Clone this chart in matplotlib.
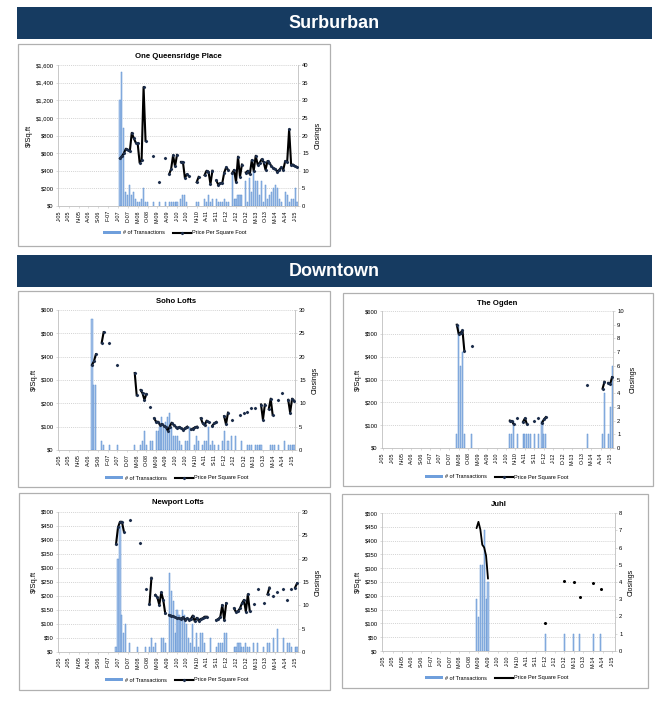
import numpy as np
import matplotlib
matplotlib.use("Agg")
import matplotlib.pyplot as plt
from matplotlib.patches import Rectangle, Patch
from matplotlib.lines import Line2D
from matplotlib.ticker import FuncFormatter, MultipleLocator

plt.rcParams['font.family'] = ['Liberation Sans', 'DejaVu Sans']

W, H = 671, 705
N_MONTHS = 122  # Jan-05 .. Feb-15, month index 0 = Jan-05

# ---- One Queensridge Place ----
qp_bar_idx = [31, 32, 33, 34, 35, 36, 37, 38, 39, 40, 41, 42, 43, 44, 45, 48, 51, 54, 56, 57, 58, 59, 60,
              62, 63, 64, 65, 70, 71, 74, 75, 76, 77, 78, 80, 81, 82, 83, 84, 85, 86, 88, 89, 90, 91, 92,
              93, 95, 96, 97, 98, 99, 100, 101, 102, 103, 104, 105, 106, 107, 108, 109, 110, 111, 112,
              113, 115, 116, 117, 118, 119, 120, 121]
qp_bar_n = [30, 38, 22, 4, 3, 6, 3, 4, 2, 1, 1, 2, 5, 1, 1, 1, 1, 1, 1, 1, 1, 1, 1,
            2, 3, 3, 1, 1, 1, 2, 1, 3, 1, 2, 2, 1, 1, 1, 2, 1, 1, 9, 2, 2, 3, 3,
            3, 7, 1, 8, 4, 10, 7, 7, 3, 7, 1, 6, 2, 3, 4, 5, 6, 5, 2,
            1, 4, 3, 1, 2, 2, 5, 1]
qp_price_idx = [31, 32, 33, 34, 35, 36, 37, 38, 39, 40, 41, 42, 43, 44,
                48, 51, 54,
                56, 57, 58, 59, 60,
                62, 63, 64, 65, 66,
                70, 71,
                74, 75, 76, 77, 78,
                80, 81, 82, 83, 84, 85, 86,
                88, 89, 90, 91, 92, 93,
                95, 96, 97, 98, 99, 100, 101, 102, 103, 104, 105, 106, 107, 108, 109, 110, 111,
                112, 113, 114, 115, 116, 117, 118, 119, 120, 121]
qp_price_val = [540, 565, 600, 650, 640, 620, 830, 770, 720, 710, 490, 520, 1350, 740,
                570, 270, 545,
                360, 420, 575, 450, 580,
                500, 500, 320, 360, 340,
                270, 330,
                350, 400, 390, 250, 400,
                290, 240, 260, 260, 380, 440, 410,
                370, 410, 270, 560, 330, 470,
                380, 400, 360, 520, 400, 570, 470, 490, 530, 500, 410, 510, 490,
                450, 430, 420, 390, 410, 440, 410, 510, 500, 870, 470, 470, 450, 440]

# ---- Soho Lofts ----
soho_bar_idx = [17, 18, 19, 22, 23, 26, 30, 39, 42, 43, 44, 45, 47, 48, 50, 51, 52, 53, 54, 55, 56, 57,
                58, 59, 60, 61, 62, 63, 65, 66, 67, 70, 71, 72, 74, 75, 76, 77, 78, 79, 80, 82, 84, 85,
                87, 89, 91, 94, 97, 98, 99, 101, 102, 103, 104, 109, 110, 111, 113, 116, 118, 119, 120, 121]
soho_bar_n = [28, 14, 14, 2, 1, 1, 1, 1, 1, 2, 4, 1, 2, 2, 4, 4, 5, 7, 5, 6, 7, 8,
              5, 3, 3, 3, 2, 1, 2, 2, 5, 1, 3, 2, 1, 2, 2, 5, 1, 2, 1, 1, 2, 4,
              2, 3, 3, 2, 1, 1, 1, 1, 1, 1, 1, 1, 1, 1, 1, 2, 1, 1, 1, 1]
soho_price_idx = [17, 18, 19, 22, 23, 26, 30, 39, 40, 42, 43, 44, 45, 47,
                  49, 50, 51, 52, 53, 54, 55, 56, 57, 58, 59, 60, 61, 62, 63, 64, 65, 66,
                  68, 69, 70, 71, 73, 74, 75, 76, 77, 79, 80, 81,
                  85, 86, 87, 89, 93, 95, 97, 99, 101,
                  104, 105, 106, 108, 109, 110, 113, 115, 118, 119, 120, 121]
soho_price_val = [365, 380, 410, 460, 505, 460, 365, 330, 235, 257, 243, 215, 240, 183,
                  136, 121, 121, 107, 111, 104, 100, 83, 100, 117, 107, 100, 93, 99, 93, 86, 94, 100,
                  88, 92, 97, 100, 136, 114, 106, 126, 120, 105, 115, 120,
                  145, 110, 160, 130, 150, 160, 165, 180, 178,
                  195, 130, 195, 175, 220, 150, 215, 245, 215, 160, 220, 212]

# ---- The Ogden ----
ogden_bar_idx = [39, 40, 41, 42, 43, 47, 67, 68, 69, 71, 74, 75, 76, 77, 78, 80, 82, 84, 85, 86,
                 108, 116, 117, 119, 120, 121]
ogden_bar_n = [1, 9, 6, 7, 1, 1, 1, 1, 2, 1, 1, 1, 1, 1, 1, 1, 1, 2, 1, 1,
               1, 1, 4, 1, 3, 6]
ogden_price_idx = [39, 40, 41, 42, 43, 47, 67, 68, 69, 71, 74, 75, 76, 80, 82, 84, 85, 86,
                   108, 116, 117, 119, 120, 121]
ogden_price_val = [540, 500, 505, 515, 425, 445, 120, 118, 105, 130, 115, 130, 105, 120, 130, 110, 125, 135,
                   275, 260, 290, 285, 280, 310]

# ---- Newport Lofts ----
newport_bar_idx = [29, 30, 31, 32, 33, 34, 36, 40, 44, 46, 47, 48, 49, 52, 53, 54, 56, 57, 58, 59, 60,
                   61, 62, 63, 64, 65, 66, 67, 68, 69, 70, 71, 72, 73, 74, 77, 80, 81, 82, 83, 84, 85,
                   89, 90, 91, 92, 93, 94, 95, 96, 97, 99, 101, 104, 106, 107, 109, 111, 114, 116,
                   117, 118, 120, 121]
newport_bar_n = [1, 20, 27, 8, 4, 6, 2, 1, 1, 1, 3, 1, 2, 3, 3, 2, 17, 13, 11, 4, 9,
                 8, 7, 9, 8, 6, 3, 2, 6, 1, 4, 1, 4, 4, 2, 3, 1, 2, 2, 2, 4, 4,
                 1, 1, 2, 2, 1, 1, 2, 1, 1, 2, 2, 1, 2, 2, 3, 5, 3, 2,
                 2, 1, 1, 1]
newport_price_idx = [29, 30, 31, 32, 33, 36, 41, 44, 46, 47, 49, 50, 51, 52, 53, 54,
                     56, 57, 58, 59, 60, 61, 62, 63, 64, 65, 66, 67, 68, 69, 70, 71, 72, 73, 74, 75,
                     80, 81, 82, 83, 84, 85,
                     89, 90, 91, 92, 93, 94, 95, 96, 97,
                     99, 101, 104, 106, 107, 109, 111, 114, 116, 118, 120, 121]
newport_price_val = [385, 445, 465, 465, 430, 470, 390, 225, 170, 265, 204, 195, 168, 213, 186, 138,
                     132, 130, 127, 124, 120, 122, 118, 124, 115, 120, 115, 118, 130, 110, 122, 112,
                     118, 120, 126, 126,
                     114, 118, 125, 168, 114, 174,
                     156, 142, 146, 156, 174, 186, 144, 206, 146,
                     171, 224, 174, 206, 230, 201, 215, 225, 187, 225, 230, 245]

# ---- Juhl ----
juhl_bar_idx = [49, 50, 51, 52, 53, 54, 55, 85, 95, 100, 103, 110, 114]
juhl_bar_n = [3, 2, 5, 5, 7, 3, 4, 1, 1, 1, 1, 1, 1]
juhl_price_idx = [49, 50, 51, 52, 53, 54, 55, 85, 95, 100, 103, 110, 114]
juhl_price_val = [445, 468, 440, 385, 375, 345, 262, 100, 255, 250, 195, 245, 225]

LETTERS = "JFMAMJJASOND"
tick_pos = list(range(0, N_MONTHS, 5))
tick_lab = [f"{LETTERS[m % 12]}-{5 + m // 12:02d}" for m in tick_pos]

BAR_FC = '#a7c4ea'
BAR_EC = '#5a8ed0'
MARK_C = '#1c2d4a'
GRID_C = '#c4c4c4'
AX_C = '#bfbfbf'
NAVY = '#163b61'


def fig_box(x0, y0, x1, y1):
    return [x0 / W, 1 - y1 / H, (x1 - x0) / W, (y1 - y0) / H]


def banner(x0, y0, x1, y1, text):
    fig.patches.append(Rectangle((x0 / W, 1 - y1 / H), (x1 - x0) / W, (y1 - y0) / H,
                                 transform=fig.transFigure, facecolor=NAVY, edgecolor='none',
                                 zorder=-5))
    fig.text((x0 + x1) / 2 / W, 1 - (y0 + y1) / 2 / H, text, color='white', fontsize=13,
             fontweight='bold', ha='center', va='center')


def frame(x0, y0, x1, y1):
    fig.patches.append(Rectangle((x0 / W, 1 - y1 / H), (x1 - x0) / W, (y1 - y0) / H,
                                 transform=fig.transFigure, facecolor='white',
                                 edgecolor='#b0b0b0', linewidth=0.9, zorder=-5))


def panel(box, title, title_y, leg_xy, bar_idx, bar_n, price_idx, price_val,
          lmax, lstep, rmax, rstep, markers=True):
    ax = fig.add_axes(fig_box(*box))
    ax2 = ax.twinx()
    ax.patch.set_visible(False)
    # bars against the right (closings) axis
    ax.bar(bar_idx, bar_n, width=0.55, color=BAR_FC, edgecolor=BAR_EC, linewidth=0.35, zorder=2)
    ax.set_ylim(0, rmax)
    ax.set_xlim(-0.5, N_MONTHS - 0.5)
    for v in np.arange(lstep, lmax + 1, lstep):
        ax.axhline(v / lmax * rmax, color=GRID_C, lw=0.5, ls=(0, (1.5, 1.5)), zorder=1)
    ax.yaxis.tick_right()
    ax.yaxis.set_label_position('right')
    ax.yaxis.set_major_locator(MultipleLocator(rstep))
    ax.set_ylabel('Closings', fontsize=5, rotation=90, labelpad=4)

    series = np.full(N_MONTHS, np.nan)
    series[price_idx] = price_val
    if markers:
        ax2.plot(np.arange(N_MONTHS), series, color='black', lw=1.5, marker='D', ms=1.1,
                 mfc=MARK_C, mec=MARK_C, solid_joinstyle='round', zorder=3)
    else:
        ax2.plot(np.arange(N_MONTHS), series, color='black', lw=1.3, solid_joinstyle='round',
                 solid_capstyle='round', zorder=3)
        prev = np.concatenate([[np.nan], series[:-1]])
        nxt = np.concatenate([series[1:], [np.nan]])
        iso = ~np.isnan(series) & np.isnan(prev) & np.isnan(nxt)
        ax2.plot(np.arange(N_MONTHS)[iso], series[iso], ls='none', marker='o', ms=1.2,
                 color='black')
    ax2.set_ylim(0, lmax)
    ax2.yaxis.tick_left()
    ax2.yaxis.set_label_position('left')
    ax2.yaxis.set_major_locator(MultipleLocator(lstep))
    ax2.yaxis.set_major_formatter(FuncFormatter(lambda v, p: f"${v:,.0f}"))
    ax2.set_ylabel('$/Sq.ft', fontsize=5.5, labelpad=2)

    ax.set_xticks(tick_pos)
    ax.set_xticklabels(tick_lab, rotation=90, fontsize=3.9)
    for a in (ax, ax2):
        a.tick_params(axis='y', labelsize=4.2, length=1.5, width=0.4, color=AX_C, pad=1.5)
        a.tick_params(axis='x', length=1.5, width=0.4, color=AX_C, pad=1.5)
        for s in a.spines.values():
            s.set_visible(False)
    for s in ('left', 'right', 'bottom'):
        ax.spines[s].set_visible(True)
        ax.spines[s].set_color(AX_C)
        ax.spines[s].set_linewidth(0.6)

    fig.text((box[0] + box[2]) / 2 / W, 1 - title_y / H, title, fontsize=5.6,
             fontweight='bold', ha='center', va='center')
    handles = [Patch(facecolor='#6f9fdc', edgecolor='none'),
               Line2D([], [], color='black', lw=1.5, marker='D' if markers else None, ms=1.1,
                      mfc=MARK_C, mec=MARK_C)]
    fig.legend(handles, ['# of Transactions', 'Price Per Square Foot'], loc='center',
               bbox_to_anchor=(leg_xy[0] / W, 1 - leg_xy[1] / H), ncol=2, frameon=False,
               fontsize=4, handlelength=3.2, handleheight=0.6, columnspacing=1.5,
               handletextpad=0.3)


fig = plt.figure(figsize=(W / 100, H / 100), dpi=100)
fig.patch.set_facecolor('white')

banner(17, 7, 652, 39, 'Surburban')
banner(17, 255, 652, 287, 'Downtown')

frame(18, 44, 330, 246)
frame(18, 291, 330, 487)
frame(343, 293, 653, 486)
frame(19, 493, 330, 690)
frame(342, 494, 648, 688)

panel((58, 65, 298, 206), 'One Queensridge Place', 56, (175, 233),
      qp_bar_idx, qp_bar_n, qp_price_idx, qp_price_val, 1600, 200, 40, 5)
panel((58, 310, 295, 450), 'Soho Lofts', 301, (177, 478),
      soho_bar_idx, soho_bar_n, soho_price_idx, soho_price_val, 600, 100, 30, 5)
panel((382, 311, 613, 448), 'The Ogden', 303, (497, 477),
      ogden_bar_idx, ogden_bar_n, ogden_price_idx, ogden_price_val, 600, 100, 10, 1)
panel((58, 512, 298, 652), 'Newport Lofts', 503, (177, 680),
      newport_bar_idx, newport_bar_n, newport_price_idx, newport_price_val, 500, 50, 30, 5)
panel((382, 513, 615, 651), 'Juhl', 504, (497, 678),
      juhl_bar_idx, juhl_bar_n, juhl_price_idx, juhl_price_val, 500, 50, 8, 1, markers=False)

fig.savefig('out.png', dpi=100, facecolor='white')
